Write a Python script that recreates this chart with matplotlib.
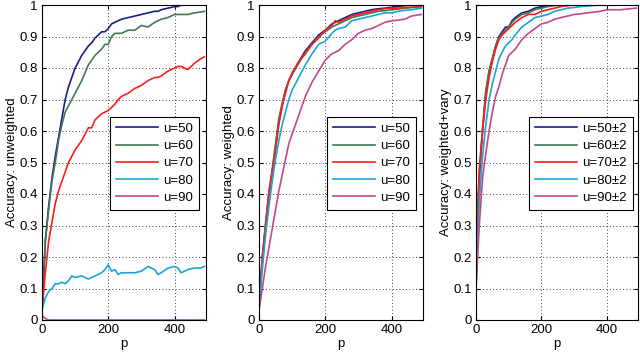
import matplotlib
matplotlib.use('Agg')
from matplotlib import pyplot as plt

plt.rcParams['font.family'] = ['Liberation Sans', 'DejaVu Sans']
plt.rcParams['font.size'] = 9.5

colors = ['#1c1c8c', '#3f7a57', '#ff1c1c', '#1ca4d4', '#c4478a']

# ---- panel 1: unweighted ----
p1 = [0, 10, 20, 30, 40, 50, 60, 70, 80, 90, 100, 120, 140, 150, 160, 180, 190, 200,
      210, 220, 230, 240, 260, 280, 300, 320, 340, 350, 360, 380, 400, 410, 420, 440,
      460, 480, 490]
unw_50 = [0.03, 0.25, 0.36, 0.45, 0.52, 0.58, 0.64, 0.70, 0.74, 0.77, 0.80, 0.84, 0.87, 0.88,
          0.895, 0.915, 0.915, 0.925, 0.94, 0.945, 0.95, 0.955, 0.96, 0.965, 0.97, 0.975,
          0.98, 0.98, 0.985, 0.99, 0.995, 0.995, 1.0, 1.0, 1.0, 1.0, 1.0]
unw_60 = [0.03, 0.25, 0.35, 0.44, 0.50, 0.57, 0.62, 0.66, 0.68, 0.70, 0.72, 0.76, 0.81, 0.825,
          0.84, 0.86, 0.875, 0.875, 0.90, 0.91, 0.91, 0.91, 0.92, 0.92, 0.935, 0.93, 0.945,
          0.95, 0.955, 0.96, 0.97, 0.97, 0.97, 0.97, 0.975, 0.978, 0.98]
unw_70 = [0.03, 0.15, 0.25, 0.31, 0.37, 0.41, 0.44, 0.47, 0.50, 0.52, 0.54, 0.57, 0.61, 0.61,
          0.635, 0.655, 0.66, 0.665, 0.675, 0.685, 0.70, 0.71, 0.72, 0.735, 0.745, 0.76,
          0.77, 0.77, 0.775, 0.79, 0.80, 0.805, 0.805, 0.795, 0.815, 0.83, 0.835]
unw_80 = [0.03, 0.07, 0.09, 0.10, 0.115, 0.115, 0.12, 0.115, 0.125, 0.14, 0.135, 0.14, 0.13,
          0.135, 0.14, 0.15, 0.16, 0.175, 0.155, 0.16, 0.145, 0.15, 0.15, 0.15, 0.155, 0.17,
          0.16, 0.145, 0.15, 0.165, 0.17, 0.165, 0.15, 0.16, 0.165, 0.165, 0.17]
unw_90 = [0.015, 0.005, 0.0, 0.0, 0.0, 0.0, 0.0, 0.0, 0.0, 0.0, 0.0, 0.0, 0.0, 0.0, 0.0, 0.0,
          0.0, 0.0, 0.0, 0.0, 0.0, 0.0, 0.0, 0.0, 0.0, 0.0, 0.0, 0.0, 0.0, 0.0, 0.0, 0.0,
          0.0, 0.0, 0.0, 0.0, 0.0]

# ---- panel 2: weighted ----
p2 = [0, 10, 20, 30, 40, 50, 60, 70, 80, 90, 100, 120, 140, 160, 180, 200, 220, 230, 240,
      260, 280, 300, 320, 340, 360, 380, 400, 420, 440, 460, 490]
w_50 = [0.04, 0.2, 0.3, 0.4, 0.47, 0.55, 0.63, 0.68, 0.73, 0.76, 0.78, 0.82, 0.855, 0.88,
        0.905, 0.92, 0.94, 0.945, 0.95, 0.96, 0.97, 0.975, 0.98, 0.985, 0.988, 0.99, 0.993,
        0.995, 0.998, 1.0, 1.0]
w_60 = [0.04, 0.2, 0.31, 0.41, 0.48, 0.56, 0.64, 0.69, 0.73, 0.76, 0.78, 0.815, 0.85, 0.875,
        0.9, 0.915, 0.93, 0.935, 0.94, 0.95, 0.96, 0.965, 0.97, 0.975, 0.98, 0.982, 0.985,
        0.987, 0.99, 0.992, 0.995]
w_70 = [0.04, 0.19, 0.3, 0.4, 0.47, 0.54, 0.62, 0.68, 0.72, 0.76, 0.785, 0.82, 0.845, 0.875,
        0.895, 0.92, 0.935, 0.95, 0.945, 0.955, 0.965, 0.97, 0.975, 0.98, 0.985, 0.988, 0.99,
        0.99, 0.992, 0.993, 0.993]
w_80 = [0.04, 0.16, 0.27, 0.36, 0.44, 0.51, 0.57, 0.62, 0.66, 0.70, 0.73, 0.77, 0.81, 0.845,
        0.875, 0.885, 0.91, 0.92, 0.925, 0.93, 0.95, 0.955, 0.96, 0.965, 0.97, 0.975, 0.975,
        0.98, 0.983, 0.985, 0.99]
w_90 = [0.03, 0.1, 0.17, 0.23, 0.29, 0.35, 0.41, 0.46, 0.51, 0.56, 0.59, 0.65, 0.71, 0.755,
        0.79, 0.825, 0.845, 0.85, 0.855, 0.875, 0.89, 0.91, 0.92, 0.925, 0.935, 0.945, 0.95,
        0.952, 0.955, 0.965, 0.97]

# ---- panel 3: weighted + vary ----
p3 = [0, 5, 10, 20, 30, 40, 50, 60, 70, 80, 90, 100, 110, 120, 140, 160, 180, 200, 220,
      240, 260, 280, 300, 320, 340, 380, 400, 440, 490]
v_50 = [0.12, 0.3, 0.45, 0.6, 0.72, 0.79, 0.83, 0.87, 0.9, 0.915, 0.93, 0.93, 0.95, 0.96,
        0.975, 0.98, 0.99, 0.995, 0.998, 1.0, 1.0, 1.0, 1.0, 1.0, 1.0, 1.0, 1.0, 1.0, 1.0]
v_60 = [0.12, 0.32, 0.46, 0.61, 0.73, 0.79, 0.83, 0.87, 0.895, 0.91, 0.92, 0.93, 0.945,
        0.955, 0.97, 0.975, 0.985, 0.99, 0.995, 0.998, 1.0, 1.0, 1.0, 1.0, 1.0, 1.0, 1.0,
        1.0, 1.0]
v_70 = [0.12, 0.35, 0.48, 0.6, 0.7, 0.77, 0.82, 0.86, 0.89, 0.905, 0.915, 0.925, 0.935,
        0.945, 0.96, 0.97, 0.97, 0.98, 0.985, 0.99, 0.995, 0.998, 1.0, 1.0, 1.0, 1.0, 1.0,
        1.0, 1.0]
v_80 = [0.1, 0.25, 0.38, 0.52, 0.62, 0.7, 0.75, 0.79, 0.83, 0.85, 0.87, 0.88, 0.89, 0.905,
        0.93, 0.945, 0.96, 0.965, 0.97, 0.98, 0.985, 0.99, 0.992, 0.995, 0.997, 1.0, 1.0,
        1.0, 1.0]
v_90 = [0.1, 0.2, 0.3, 0.45, 0.53, 0.6, 0.66, 0.71, 0.74, 0.78, 0.81, 0.84, 0.85, 0.86,
        0.89, 0.91, 0.925, 0.94, 0.945, 0.955, 0.96, 0.965, 0.97, 0.972, 0.975, 0.98,
        0.985, 0.985, 0.99]

labels_a = ['u=50', 'u=60', 'u=70', 'u=80', 'u=90']
labels_b = ['u=50\u00b12', 'u=60\u00b12', 'u=70\u00b12', 'u=80\u00b12', 'u=90\u00b12']

panels = [
    (p1, [unw_50, unw_60, unw_70, unw_80, unw_90], labels_a, 'Accuracy: unweighted',
     [42, 164], (0.415, 0.645)),
    (p2, [w_50, w_60, w_70, w_80, w_90], labels_a, 'Accuracy: weighted',
     [259, 164], (0.415, 0.645)),
    (p3, [v_50, v_60, v_70, v_80, v_90], labels_b, 'Accuracy: weighted+vary',
     [476, 162], (0.325, 0.645)),
]

W, H = 640, 354
fig = plt.figure(figsize=(W / 100, H / 100), dpi=100)

for p, series, labels, ylabel, (left, width), legpos in panels:
    ax = fig.add_axes([left / W, 1 - 320 / H, width / W, 315 / H])
    for ys, c, lab in zip(series, colors, labels):
        ax.plot(p, ys, color=c, lw=1.2, label=lab)
    ax.set_xlim(0, 495)
    ax.set_ylim(0, 1)
    ax.set_xticks([0, 200, 400])
    ax.set_yticks([i / 10 for i in range(11)])
    ax.set_yticklabels(['0'] + ['%.1f' % (i / 10) for i in range(1, 10)] + ['1'])
    ax.grid(True, color='black', linestyle=(0, (1, 3)), linewidth=0.6)
    ax.tick_params(direction='in', top=True, right=True, length=3, pad=3)
    ax.set_xlabel('p', labelpad=1)
    ax.set_ylabel(ylabel, labelpad=1)
    for s in ax.spines.values():
        s.set_linewidth(0.8)
    leg = ax.legend(loc='upper left', bbox_to_anchor=legpos, fancybox=False,
                    framealpha=1, edgecolor='black', handlelength=3.2,
                    borderaxespad=0, labelspacing=0.38, handletextpad=0.4,
                    borderpad=0.45)
    leg.get_frame().set_linewidth(0.8)

fig.savefig('out.png', dpi=100)
